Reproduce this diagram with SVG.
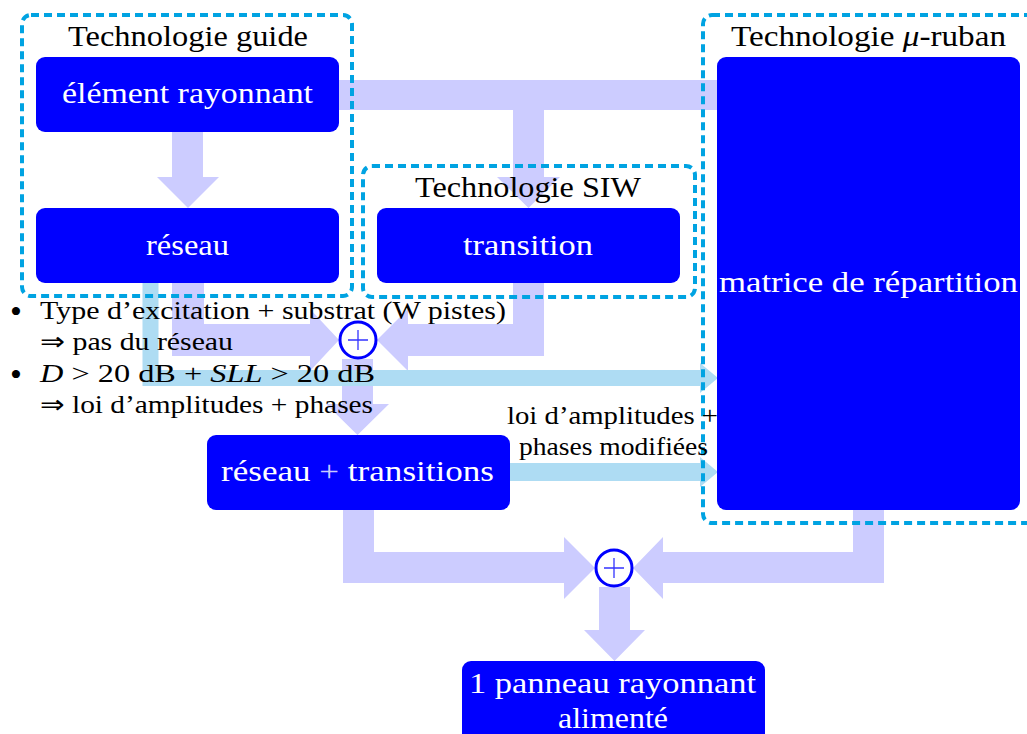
<svg xmlns="http://www.w3.org/2000/svg" width="1027" height="734" viewBox="0 0 1027 734">
<style>
.lav{fill:#CCCCFF;stroke:none}
.lb{fill:none;stroke:#AEDCF3;stroke-linejoin:miter}
.lbh{fill:#AEDCF3;stroke:none}
.box{fill:none;stroke:#00A3E2;stroke-width:4;stroke-dasharray:8 5}
.node{fill:#0000FF}
.nt{font-family:"Liberation Serif","Times New Roman",serif;font-size:29px;fill:#FFFFFF}
.tt{font-family:"Liberation Serif","Times New Roman",serif;font-size:29px;fill:#000000}
.bt{font-family:"Liberation Serif","Times New Roman",serif;font-size:25px;fill:#000000}
.bul{font-family:"Liberation Serif","Times New Roman",serif;font-size:34px;fill:#000000}
.sum{fill:#FFFFFF;stroke:#0000FF;stroke-width:3}
.plus{stroke:#3333FF;stroke-width:1.3;fill:none}
</style>
<rect width="1027" height="734" fill="#FFFFFF"/>
<g id="connectors">
<polygon class="lav" points="172,132 203,132 203,177 219,177 188,208 157,177 172,177"/>
<polygon class="lav" points="339,80 717,80 717,110 544,110 544,177 560,177 528.5,208 497,177 513,177 513,110 339,110"/>
<polygon class="lav" points="172,283 204,283 204,324 310,324 310,309 339,340 310,371 310,356 172,356"/>
<polygon class="lav" points="513,283 544,283 544,356 408,356 408,371 377,340 408,309 408,324 513,324"/>
<polygon class="lav" points="342,359 373,359 373,404 389,404 357.5,435 326,404 342,404"/>
<polygon class="lav" points="343,510 374,510 374,552 564,552 564,537 595,568 564,599 564,583 343,583"/>
<polygon class="lav" points="853,510 884,510 884,583 663,583 663,599 633,568 663,537 663,552 853,552"/>
<polygon class="lav" points="599,587 630,587 630,630 645,630 614.5,661 584,630 599,630"/>
<path class="lb" d="M150.5 283 V378 H702" stroke-width="16"/>
<polygon class="lbh" points="700,363 718,378 700,393"/>
<path class="lb" d="M510 472 H702" stroke-width="18"/>
<polygon class="lbh" points="700,457 718,472 700,487"/>
</g>
<g id="group-guide">
<rect class="box" x="22" y="15" width="330" height="281" rx="9"/>
<text class="tt" x="68" y="46" textLength="240" lengthAdjust="spacingAndGlyphs">Technologie guide</text>
</g>
<g id="group-siw">
<rect class="box" x="363" y="166" width="332" height="131" rx="9"/>
<text class="tt" x="415" y="197" textLength="226" lengthAdjust="spacingAndGlyphs">Technologie SIW</text>
</g>
<g id="group-microstrip">
<rect class="box" x="703" y="15" width="340" height="508" rx="9"/>
<text class="tt" x="731" y="46" textLength="275" lengthAdjust="spacingAndGlyphs">Technologie <tspan font-style="italic">μ</tspan>-ruban</text>
</g>
<g id="node-element">
<rect class="node" x="36" y="57" width="303" height="75" rx="9"/>
<text class="nt" x="62" y="103" textLength="251" lengthAdjust="spacingAndGlyphs">élément rayonnant</text>
</g>
<g id="node-reseau">
<rect class="node" x="36" y="208" width="303" height="75" rx="9"/>
<text class="nt" x="146" y="255" textLength="83" lengthAdjust="spacingAndGlyphs">réseau</text>
</g>
<g id="node-transition">
<rect class="node" x="377" y="208" width="303" height="75" rx="9"/>
<text class="nt" x="463" y="255" textLength="130" lengthAdjust="spacingAndGlyphs">transition</text>
</g>
<g id="node-matrice">
<rect class="node" x="717" y="57" width="303" height="453" rx="9"/>
<text class="nt" x="719" y="292" textLength="299" lengthAdjust="spacingAndGlyphs">matrice de répartition</text>
</g>
<g id="node-reseau-transitions">
<rect class="node" x="207" y="435" width="303" height="75" rx="9"/>
<text class="nt" x="221" y="481" textLength="273" lengthAdjust="spacingAndGlyphs">réseau <tspan fill="#C8C8FF">+</tspan> transitions</text>
</g>
<g id="node-panneau">
<rect class="node" x="462" y="661" width="303" height="90" rx="9"/>
<text class="nt" x="469" y="693" textLength="287" lengthAdjust="spacingAndGlyphs">1 panneau rayonnant</text>
<text class="nt" x="558" y="728" textLength="110" lengthAdjust="spacingAndGlyphs">alimenté</text>
</g>
<g id="sum-1">
<circle class="sum" cx="358" cy="340" r="18"/>
<path class="plus" d="M348 340 H368 M358 330 V350"/>
</g>
<g id="sum-2">
<circle class="sum" cx="614" cy="568" r="18"/>
<path class="plus" d="M604 568 H624 M614 558 V578"/>
</g>
<g id="notes">
<text class="bul" x="16" y="323" text-anchor="middle">•</text>
<text class="bt" x="40" y="319" textLength="466" lengthAdjust="spacingAndGlyphs">Type d’excitation + substrat (W pistes)</text>
<text class="bt" x="40" y="350" textLength="193" lengthAdjust="spacingAndGlyphs">⇒ pas du réseau</text>
<text class="bul" x="16" y="386" text-anchor="middle">•</text>
<text class="bt" x="40" y="382" textLength="335" lengthAdjust="spacingAndGlyphs"><tspan font-style="italic">D</tspan> &gt; 20 dB + <tspan font-style="italic">SLL</tspan> &gt; 20 dB</text>
<text class="bt" x="40" y="413" textLength="333" lengthAdjust="spacingAndGlyphs">⇒ loi d’amplitudes + phases</text>
<text class="bt" x="507" y="424" textLength="211" lengthAdjust="spacingAndGlyphs">loi d’amplitudes +</text>
<text class="bt" x="519" y="455" textLength="189" lengthAdjust="spacingAndGlyphs">phases modifiées</text>
</g>
</svg>
